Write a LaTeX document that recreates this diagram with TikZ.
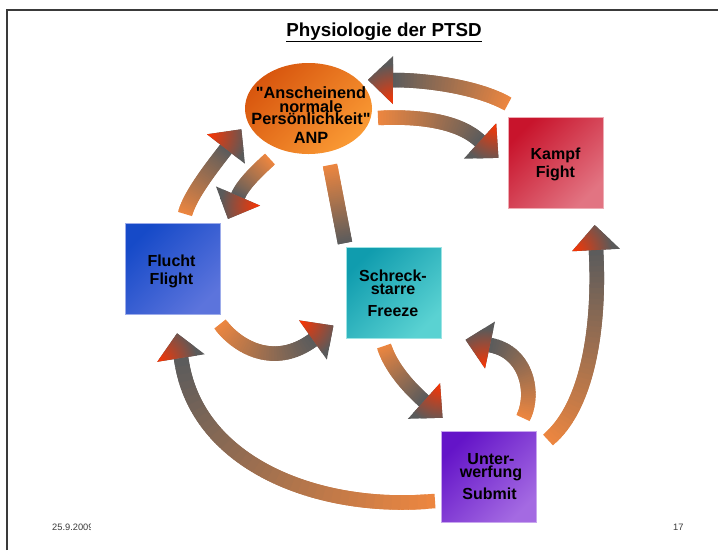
\documentclass[tikz,border=0pt]{standalone}
\usepackage{fontspec}
\setmainfont{Liberation Sans}
\newfontfamily\qfont{Liberation Sans}[Ligatures=NoCommon]
\usetikzlibrary{calc,shapes.geometric}
\definecolor{bandorange}{HTML}{EC8640}
\definecolor{bandgray}{HTML}{5C5C5C}
\definecolor{headgray}{HTML}{5A5A5A}
\definecolor{headred}{HTML}{FF3300}
\definecolor{framegray}{HTML}{3A3A3A}
\definecolor{kampfA}{HTML}{C8142C}
\definecolor{kampfB}{HTML}{E27482}
\definecolor{fluchtA}{HTML}{164AC8}
\definecolor{fluchtB}{HTML}{5C74DC}
\definecolor{freezeA}{HTML}{109CAE}
\definecolor{freezeB}{HTML}{5AD2D2}
\definecolor{submitA}{HTML}{6414C8}
\definecolor{submitB}{HTML}{A46AE2}
\definecolor{anpA}{HTML}{D8560E}
\definecolor{anpB}{HTML}{FA9A34}
\newcommand{\dq}{{\qfont\bfseries"}}
\newcommand{\gradband}[5]{%
  \path #2 .. controls #3 and #4 .. #5
    foreach \k in {0,...,40}{coordinate[pos=\k/40] (#1-\k)};
  \foreach \k in {0,...,39}{%
    \pgfmathtruncatemacro\kk{min(\k+2,40)}%
    \pgfmathsetmacro\cc{100*\k/39}%
    \draw[line width=14.5pt, line cap=butt, color=bandgray!\cc!bandorange] (#1-\k) -- (#1-\kk);
  }%
}
\newcommand{\headof}[1]{%
  \coordinate (#1-L) at ($(#1-40)!24pt!-90:(#1-39)$);
  \coordinate (#1-R) at ($(#1-40)!24pt!90:(#1-39)$);
  \coordinate (#1-T) at ($(#1-40)!25pt!180:(#1-39)$);
  \fill[headgray] (#1-L) -- (#1-T) -- (#1-R) -- cycle;
  \begin{scope}
    \clip (#1-L) -- (#1-T) -- (#1-R) -- cycle;
    \shade[inner color=headred, outer color=headgray] (#1-L) circle (40pt);
  \end{scope}%
}
\tikzset{
  boxstyle/.style={rectangle, minimum width=95pt, minimum height=91pt, inner sep=0pt, line width=0.7pt},
  lbl/.style={text=black, inner sep=0pt, anchor=base, font=\fontsize{16}{19}\selectfont\bfseries},
  footer/.style={font=\fontsize{9.3}{11}\selectfont, text=framegray, inner sep=0pt, anchor=base west}
}
\begin{document}
\begin{tikzpicture}[x=1pt,y=-1pt]
\useasboundingbox (0,0) rectangle (718,550);
\fill[white] (0,0) rectangle (718,550);
% frame
\draw[framegray, line width=2pt] (7,550) -- (7,10) -- (718,10);
% title
\node[inner sep=0pt, anchor=base, font=\fontsize{18.8}{22}\selectfont\bfseries] (title) at (384,36) {Physiologie der PTSD};
\draw[line width=1.3pt] ([yshift=-5.5pt]title.base west) -- ([yshift=-5.5pt]title.base east);
% shapes
\node[ellipse, minimum width=127pt, minimum height=91pt, inner sep=0pt,
  top color=anpA, bottom color=anpB, shading angle=45] (anp) at (308.5,108.5) {};
\node[boxstyle, top color=kampfA, bottom color=kampfB, shading angle=45, draw=kampfB!60!white] (kampf) at (555.5,162.5) {};
\node[boxstyle, top color=fluchtA, bottom color=fluchtB, shading angle=45, draw=fluchtB!60!white] (flucht) at (172.5,269) {};
\node[boxstyle, top color=freezeA, bottom color=freezeB, shading angle=45, draw=freezeB!60!white] (freeze) at (393.5,292.5) {};
\node[boxstyle, top color=submitA, bottom color=submitB, shading angle=45, draw=submitB!60!white] (submit) at (489,477) {};
% labels
\node[lbl, font=\fontsize{16.3}{19}\selectfont\bfseries] (anp-1) at (311,98.5) {\dq Anscheinend};
\node[lbl, font=\fontsize{16.3}{19}\selectfont\bfseries] (anp-2) at (311,112) {normale};
\node[lbl, font=\fontsize{16.3}{19}\selectfont\bfseries] (anp-3) at (311,124.5) {Persönlichkeit\dq};
\node[lbl, font=\fontsize{16.3}{19}\selectfont\bfseries] (anp-4) at (311,143) {ANP};
\node[lbl] (kampf-1) at (555.5,159) {Kampf};
\node[lbl] (kampf-2) at (555.5,177.5) {Fight};
\node[lbl] (flucht-1) at (171.5,266.5) {Flucht};
\node[lbl] (flucht-2) at (171.5,284.5) {Flight};
\node[lbl] (freeze-1) at (393,281.5) {Schreck-};
\node[lbl] (freeze-2) at (393,294.5) {starre};
\node[lbl] (freeze-3) at (393,316.5) {Freeze};
\node[lbl] (submit-1) at (491,464) {Unter-};
\node[lbl] (submit-2) at (491,477.5) {werfung};
\node[lbl] (submit-3) at (489.5,499.5) {Submit};
% arrows
\gradband{aone}{(378,118)}{(415,116)}{(458,120)}{(480,141)}\headof{aone}
\gradband{atwo}{(508,104)}{(480,88)}{(430,80)}{(393,80)}\headof{atwo}
\gradband{athree}{(185,214)}{(190,195)}{(212,167)}{(226,149)}\headof{athree}
\gradband{afour}{(270,159)}{(258,170)}{(243,184)}{(238,196)}\headof{afour}
\gradband{afive}{(330,165)}{(335,191)}{(340,217)}{(345,243)}
\gradband{asix}{(220,324)}{(238,348)}{(275,368)}{(313,340)}\headof{asix}
\gradband{aseven}{(384,346)}{(390,365)}{(405,384)}{(424,401)}\headof{aseven}
\gradband{aeight}{(523,418)}{(535,395)}{(528,352)}{(490,345)}\headof{aeight}
\gradband{anine}{(548,440)}{(590,405)}{(600,320)}{(596,250)}\headof{anine}
\gradband{aten}{(435,501)}{(320,512)}{(195,465)}{(181,358)}\headof{aten}
% footer
\begin{scope}
  \clip (40,510) rectangle (90.5,540);
  \node[footer] (date) at (52,530) {25.9.2009};
\end{scope}
\node[footer] (page) at (673,530) {17};
\end{tikzpicture}
\end{document}
